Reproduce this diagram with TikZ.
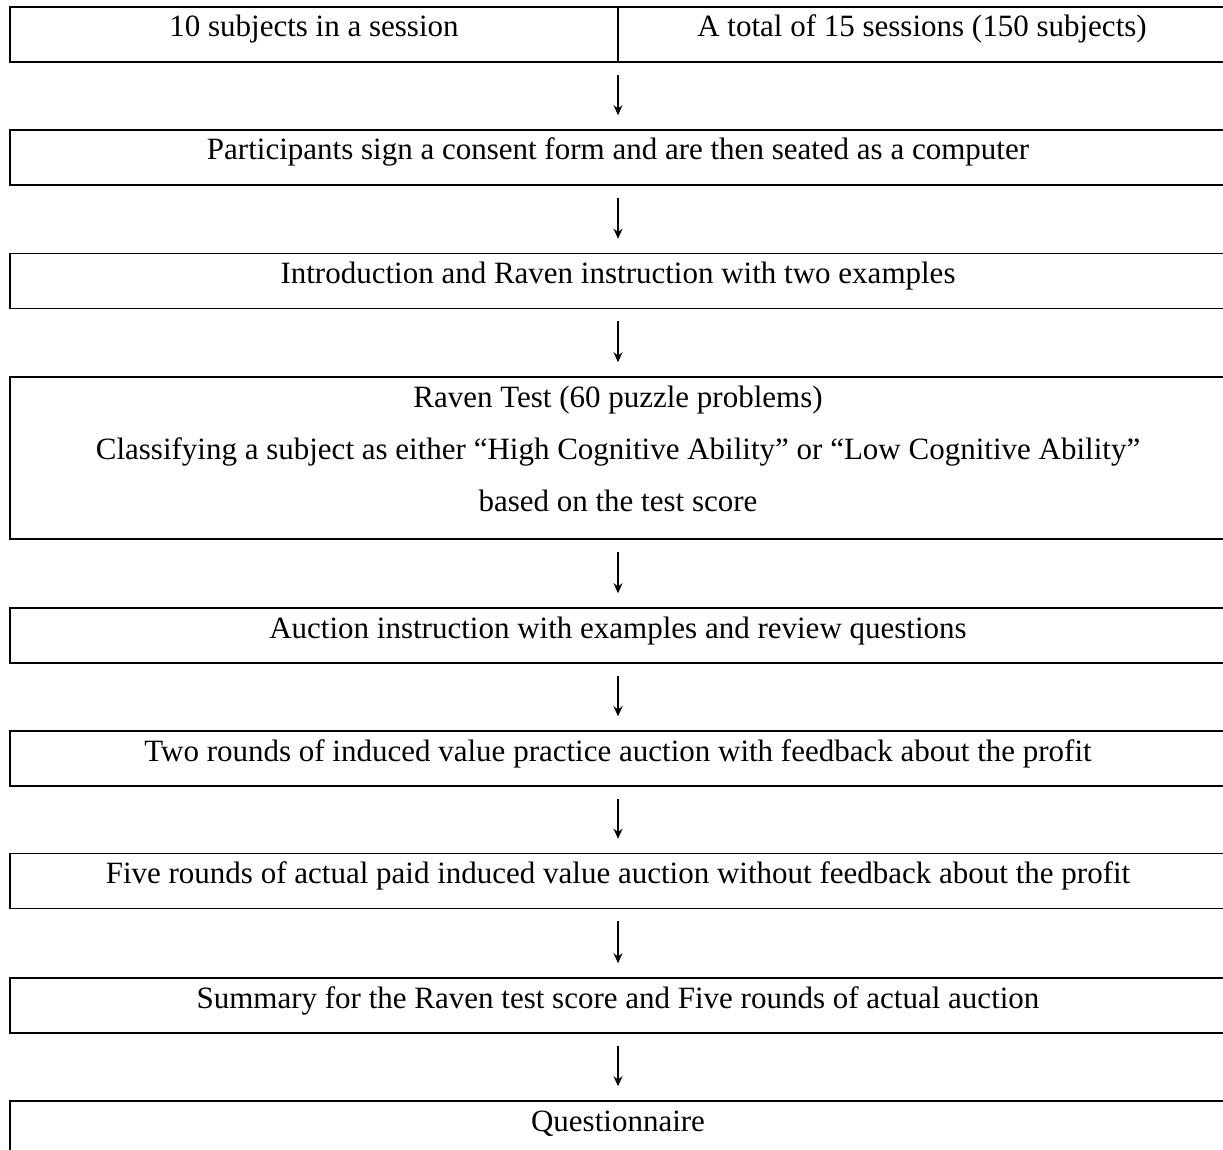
\documentclass[tikz,border=0pt]{standalone}
\usepackage{fontspec}
\setmainfont{Liberation Serif}
\usetikzlibrary{arrows.meta}
\begin{document}
\begin{tikzpicture}[x=1pt,y=-1pt,
  box/.style={draw=black,line width=1.6pt,rectangle,inner sep=0pt,minimum width=1216pt,minimum height=55pt,align=center,font=\fontsize{31}{52}\selectfont,text height=22pt,text depth=17pt},
  cell/.style={box,minimum width=608pt},
  arr/.style={line width=1.4pt,-{Stealth[length=10pt,width=9pt]}}]
\useasboundingbox (0,0) rectangle (1223,1150);
\clip (0,0) rectangle (1223,1150);
\node[cell] (c1) at (314,34.5) {10 subjects in a session};
\node[cell] (c2) at (922,34.5) {A total of 15 sessions (150 subjects)};
\node[box] (b2) at (618,157.5) {Participants sign a consent form and are then seated as a computer};
\node[box] (b3) at (618,281) {Introduction and Raven instruction with two examples};
\node[draw=black,line width=1.6pt,rectangle,inner sep=0pt,minimum width=1216pt,minimum height=162pt,align=center,font=\fontsize{31}{52}\selectfont,text depth=18.5pt] (b4) at (618,458) {Raven Test (60 puzzle problems)\\Classifying a subject as either “High Cognitive Ability” or “Low Cognitive Ability”\\based on the test score};
\node[box] (b5) at (618,635.5) {Auction instruction with examples and review questions};
\node[box] (b6) at (618,758.5) {Two rounds of induced value practice auction with feedback about the profit};
\node[box] (b7) at (618,881) {Five rounds of actual paid induced value auction without feedback about the profit};
\node[box] (b8) at (618,1005.5) {Summary for the Raven test score and Five rounds of actual auction};
\node[box] (b9) at (618,1128.5) {Questionnaire};
\draw[arr] ([yshift=-12pt]c1.south east -| b2.north) -- ([yshift=14pt]b2.north);
\draw[arr] ([yshift=-12pt]b2.south) -- ([yshift=14pt]b3.north);
\draw[arr] ([yshift=-12pt]b3.south) -- ([yshift=14pt]b4.north);
\draw[arr] ([yshift=-12pt]b4.south) -- ([yshift=14pt]b5.north);
\draw[arr] ([yshift=-12pt]b5.south) -- ([yshift=14pt]b6.north);
\draw[arr] ([yshift=-12pt]b6.south) -- ([yshift=14pt]b7.north);
\draw[arr] ([yshift=-12pt]b7.south) -- ([yshift=14pt]b8.north);
\draw[arr] ([yshift=-12pt]b8.south) -- ([yshift=14pt]b9.north);
\end{tikzpicture}
\end{document}
